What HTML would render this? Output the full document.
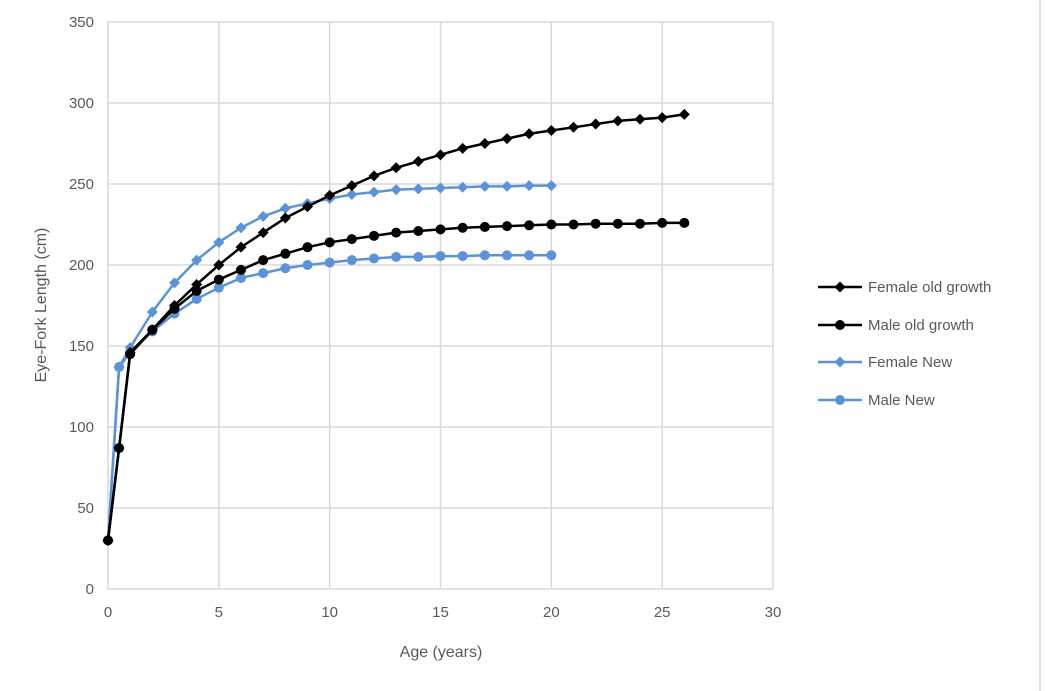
<!DOCTYPE html>
<html><head><meta charset="utf-8"><style>
body{margin:0;background:#fff;}
svg{display:block;font-family:"Liberation Sans",sans-serif;}
</style></head><body>
<svg id="chart" width="1046" height="691" viewBox="0 0 1046 691">
<rect x="0" y="0" width="1046" height="691" fill="#fff"/>
<line x1="1040" y1="0" x2="1040" y2="691" stroke="#d9d9d9" stroke-width="1.5"/>
<g id="grid"></g>
<g id="axes"></g>
<g id="series"></g>
<g id="legend"></g>
<text x="0" y="0" transform="translate(46,305) rotate(-90)" text-anchor="middle" font-size="16" fill="#595959">Eye-Fork Length (cm)</text>
<text x="441" y="657" text-anchor="middle" font-size="16" fill="#595959">Age (years)</text>
</svg>
<script>
const ages = [0,0.5,1,2,3,4,5,6,7,8,9,10,11,12,13,14,15,16,17,18,19,20,21,22,23,24,25,26];
const femaleOld = [30,87,146,160,175,188,200,211,220,229,236,243,249,255,260,264,268,272,275,278,281,283,285,287,289,290,291,293];
const maleOld = [30,87,145,160,173,184,191,197,203,207,211,214,216,218,220,221,222,223,223.5,224,224.5,225,225,225.5,225.5,225.5,226,226];
const femaleNew = [30,137,149,171,189,203,214,223,230,235,238,241,243.5,245,246.5,247,247.5,248,248.5,248.5,249,249];
const maleNew = [30,137,146,159,170,179,186,192,195,198,200,201.5,203,204,205,205,205.5,205.5,206,206,206,206];
const xTicks = [0,5,10,15,20,25,30];
const yTicks = [0,50,100,150,200,250,300,350];
const seriesNames = ["Female old growth","Male old growth","Female New","Male New"];

const NS="http://www.w3.org/2000/svg";
const X0=108,X1=773,Y0=589,Y1=22;
function sx(v){return X0+(v-0)/30*(X1-X0);}
function sy(v){return Y0-(v/350)*(Y0-Y1);}
function mk(tag,attrs,parent){const e=document.createElementNS(NS,tag);for(const k in attrs)e.setAttribute(k,attrs[k]);parent.appendChild(e);return e;}
const grid=document.getElementById('grid'),axes=document.getElementById('axes'),ser=document.getElementById('series'),leg=document.getElementById('legend');
yTicks.forEach(t=>{
  const l=mk('line',{x1:X0,x2:X1,y1:sy(t),y2:sy(t),stroke:'#d9d9d9','stroke-width':1.5},grid);
  
  
  const tx=mk('text',{x:X0-14,y:sy(t)+5,'text-anchor':'end','font-size':15,fill:'#595959'},axes);
  tx.textContent=t;
  
  
});
xTicks.forEach(t=>{
  const l=mk('line',{x1:sx(t),x2:sx(t),y1:Y1,y2:Y0,stroke:'#d9d9d9','stroke-width':1.5},grid);
  
  
  const tx=mk('text',{x:sx(t),y:Y0+28,'text-anchor':'middle','font-size':15,fill:'#595959'},axes);
  tx.textContent=t;
  
  
});
function marker(g,x,y,type,color,s){
  let m;
  if(type==='d') m=mk('polygon',{points:`${x},${y-s} ${x+s},${y} ${x},${y+s} ${x-s},${y}`,fill:color},g);
  else m=mk('circle',{cx:x,cy:y,r:s-0.5,fill:color},g);
  
  
}
const defs=[[femaleOld,'#000','d','female-old-growth'],[maleOld,'#000','c','male-old-growth'],[femaleNew,'#5b93d8','d','female-new'],[maleNew,'#5b93d8','c','male-new']];
const order=[2,3,0,1];
order.forEach(i=>{
  const [vals,col,type,nm]=defs[i];
  const g=mk('g',{},ser);
  
  
  const pts=vals.map((v,j)=>sx(ages[j])+','+sy(v)).join(' ');
  const pl=mk('polyline',{points:pts,fill:'none',stroke:col,'stroke-width':2.5,'stroke-linejoin':'round'},g);
  
  
  vals.forEach((v,j)=>marker(g,sx(ages[j]),sy(v),type,col,5.5));
});
const ly=[287,325,362,400];
defs.forEach((d,i)=>{
  const g=mk('g',{},leg);
  
  
  mk('line',{x1:818,x2:862,y1:ly[i],y2:ly[i],stroke:d[1],'stroke-width':2.5},g);
  marker(g,840,ly[i],d[2],d[1],5.5);
  const t=mk('text',{x:868,y:ly[i]+5,'font-size':15,fill:'#595959'},g);
  t.textContent=seriesNames[i];
});
</script>
</body></html>
